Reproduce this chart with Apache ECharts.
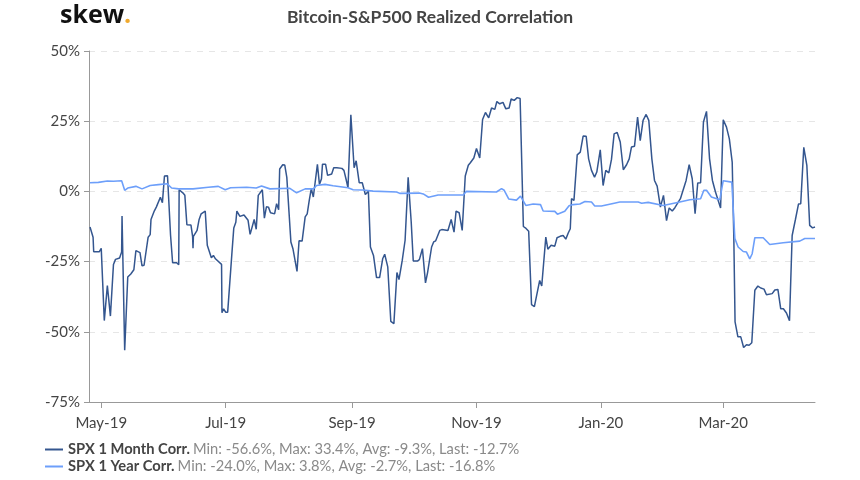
<!DOCTYPE html>
<html>
<head>
<meta charset="utf-8">
<title>Bitcoin-S&amp;P500 Realized Correlation</title>
<script src="https://cdn.jsdelivr.net/npm/echarts@6/dist/echarts.min.js"></script>
<style>
  html, body { margin: 0; padding: 0; background: #fff; }
  #chart { width: 860px; height: 480px; }
</style>
</head>
<body>
<div id="chart"></div>
<script>
// x positions are days counted from the left edge of the chart
const startDate = '2019-04-25';
const endDay = 356;

const tickDates = ['2019-05-01', '2019-07-01', '2019-09-01', '2019-11-01', '2020-01-01', '2020-03-01'];
const tickLabels = ['May-19', 'Jul-19', 'Sep-19', 'Nov-19', 'Jan-20', 'Mar-20'];

const monthDays = [
  0.5, 2, 2.3, 5, 6, 7.5, 9, 10.5, 12, 13, 15, 16, 16.2, 17.5, 19, 20.5, 22, 23, 25, 26, 27, 29, 30, 30.4,
  32, 33, 35, 36, 37, 38.5, 40, 41, 43, 44, 44.2, 46, 47, 48, 50, 50.8, 51, 51.2, 53, 54, 55, 57, 58, 60,
  61, 62, 65, 65.2, 66, 67, 68, 70, 71, 72, 72.5, 74, 76, 78, 79, 81, 82, 83, 85, 86, 87, 88, 89, 91, 92,
  93, 93.5, 95, 96, 97, 99, 100, 102, 103, 104.5, 106, 107, 108, 109, 110, 112, 113, 114, 114.5, 116, 117,
  119, 120, 121.5, 124, 125, 126, 127, 128.4, 130, 131, 132.5, 134, 135.5, 137, 138, 139.5, 141, 142.5,
  144, 145, 146.5, 148, 149.5, 151, 152, 153.6, 155, 156.5, 158, 159, 161, 162, 163.5, 165, 166, 168, 169,
  170, 172, 173, 176, 177.6, 179, 180, 181.5, 183, 184.5, 186, 187, 188.7, 190, 191.6, 193, 194.4, 196,
  197.4, 199, 200, 201.4, 203, 204.4, 206, 207, 208.5, 210, 211.4, 213, 214.3, 215.6, 217, 218.4, 221, 222,
  224, 225, 226.6, 228.4, 229.5, 231, 232.5, 233.8, 235, 236, 236.6, 237.8, 239.4, 240.9, 242.3, 243.8,
  245, 246.4, 247.9, 249, 250.7, 252.1, 253.4, 254.9, 256.2, 257.5, 259, 260.5, 262, 263.6, 264.9, 266,
  267.5, 269, 270.3, 271.7, 273.2, 274.5, 276, 277.3, 278.6, 280.2, 281.7, 283.2, 284.5, 286, 287.3, 290,
  292.8, 294.3, 295.8, 297.2, 298.5, 299.9, 301.3, 302.8, 304.3, 305.7, 307.2, 309.7, 311, 312.6, 314,
  315.4, 316.2, 316.8, 318.2, 319.6, 321, 322.4, 323.7, 325, 326.5, 328, 329.4, 331, 332.2, 335, 336.3,
  337.8, 339.2, 340.5, 342, 343.5, 344.8, 346.4, 347.9, 349, 350.5, 352, 353.4, 354.8, 356
];
const monthValues = [
  -12.7, -16.3, -21.5, -21.5, -20.3, -46, -33.5, -44.4, -26, -24.2, -23.7, -21.6, -8.8, -56.6, -30.5, -29.4,
  -27.9, -21.1, -21.8, -26.5, -26.3, -16.3, -15.4, -10, -7, -5.6, -2.1, -4, 5.5, 5.6, -15.7, -25.4, -25.4,
  -26.1, 0.6, -0.5, -1.4, -11.9, -12, -16, -20.2, -16, -13.9, -10, -8, -7, -19.2, -23.6, -22.8, -24, -26,
  -43.2, -41.8, -43, -43, -22.8, -13, -11, -7, -8.9, -8.4, -10.3, -15.3, -10, -13.5, -1.4, 0.6, -9.5, -5.5,
  -5.6, -7.6, -8, -4.4, -6.5, 8, 9.5, 9.4, 5, -18, -20.4, -28.5, -17.6, -17.7, -9.1, -8, -3.2, 1, -2, 9.6,
  2.5, 4.5, 9.7, 9.7, 5.7, 6.2, 8.4, 8.4, 8.2, 7.5, 4.5, 1.3, 27.3, 8.4, 10.9, 3.1, 3.1, -1.1, 0, -19.8,
  -22.8, -30.7, -30.7, -24, -22.4, -26.9, -46.3, -47.1, -28.9, -31.4, -24.6, -17.4, 5, -10.9, -24.8, -24.8,
  -24.3, -20.4, -32.6, -29, -19.8, -18, -17.6, -13.9, -13.6, -13.9, -10, -14.5, -7, -7.6, -13.9, 5.5, 9.3,
  10.2, 11.9, 15.3, 11.9, 25.6, 28.1, 26.2, 29.7, 29.2, 32, 31.2, 31.7, 29.4, 29.7, 32.9, 32.4, 33.4, 33.1,
  -12.5, -13.2, -14.2, -40.3, -41, -31.7, -33.7, -16.3, -20.6, -19.2, -19.5, -16.5, -16, -15.7, -17, -14.8,
  -13.3, -2.6, -3.2, 13, 14, 19.7, 19.6, 11.6, 7.5, 5.1, 6.9, 14.8, 2.1, 7.5, 6.6, 11.4, 20.5, 21, 17.6, 7.7,
  9.5, 11.6, 15.8, 16.1, 26.5, 18.1, 25.3, 27.4, 25.3, 11.6, 3.9, 1.9, -5.6, -1.4, -10.4, -5.9, -7, -5.8,
  -2.6, 3.9, 9.5, 4.5, -7.9, 3, 3.1, 24.7, 28.5, 11.6, 3.9, -0.2, -5.9, 25.5, 22.9, 18.7, 10.4, -16.8, -46.5,
  -51.8, -51.8, -55.6, -54.6, -54.8, -53.9, -35.2, -33.7, -34.4, -34.8, -36.8, -36.4, -35.1, -34.9, -41.8,
  -41.8, -43.3, -46.1, -15.7, -10, -4.5, -4.4, 15.7, 9.3, -12.1, -13, -12.7
];

const yearDays = [
  0.5, 4.6, 9, 12, 16, 17.5, 19, 23, 26, 30, 34, 38.4, 40.5, 44, 51, 58.5, 63.4, 66.8, 69.4, 77.3, 82, 84.6,
  88.7, 98.5, 101.8, 106, 110, 111.6, 115.7, 119.7, 127, 129.5, 134.4, 139.3, 150.8, 152.4, 162, 163.9,
  166.5, 171.2, 183.5, 185, 199.8, 202.3, 203.6, 205.8, 209.6, 211.6, 212.5, 214.2, 217.8, 221.4, 222.7,
  228.4, 229.7, 233.3, 235.4, 237.4, 240.7, 243.2, 246.4, 248, 251.3, 257, 260.3, 269.3, 271, 274.2, 281.6,
  289.7, 294.6, 299.9, 301.5, 302.8, 305.2, 309.3, 311, 311.8, 315.2, 316.7, 318.3, 320.8, 322.4, 324,
  325.2, 326.5, 330.6, 333.8, 340.4, 348.5, 351, 356
];
const yearValues = [
  3.1, 3.2, 3.7, 3.6, 3.8, 0.4, 1.2, 1.8, 0.9, 2.1, 2.4, 2.7, 1.2, 0.9, 0.9, 1.5, 1.8, 0.6, 1.3, 1.5, 1.2, 1.9,
  0.9, 1.1, -0.5, 0.9, 0.9, 2.1, 2.5, 2, 1.3, 0.6, 0.5, 0.1, -0.2, -0.7, -0.6, -0.9, -2.1, -1.3, -1.3, 0, -0.2,
  1, 0.4, -2.7, -3.1, -1.7, -2, -5, -4.5, -4.7, -7, -7.1, -8.1, -7.1, -5.1, -4.7, -4.5, -3.6, -3.8, -5.2, -5.2,
  -4.3, -3.8, -3.8, -4.2, -3.9, -5, -3.8, -3, -2.6, 0.4, 0.4, -2, -3, 3.8, 3.6, 3.3, -16.8, -19.8, -21.4, -21.6,
  -24, -22.2, -16.5, -16.5, -18.9, -18.3, -17.7, -16.8, -16.8
];

const monthName = 'SPX 1 Month Corr.';
const yearName = 'SPX 1 Year Corr.';
const monthStats = 'Min: -56.6%, Max: 33.4%, Avg: -9.3%, Last: -12.7%';
const yearStats = 'Min: -24.0%, Max: 3.8%, Avg: -2.7%, Last: -16.8%';

const DAY = 86400000;
const t0 = Date.parse(startDate);
const tickDays = tickDates.map(d => (Date.parse(d) - t0) / DAY);
const toPairs = (days, values) => days.map((d, i) => [d, values[i]]);

const chart = echarts.init(document.getElementById('chart'));

chart.setOption({
  animation: false,
  textStyle: { fontFamily: 'Lato' },
  title: [{
    text: 'skew{dot|.}',
    left: 55,
    top: -2,
    textStyle: {
      fontFamily: 'Open Sans',
      fontSize: 25,
      fontWeight: 'bold',
      color: '#111',
      rich: { dot: { fontFamily: 'Open Sans', fontSize: 25, fontWeight: 'bold', color: '#f0a92c' } }
    }
  }, {
    text: 'Bitcoin-S&P500 Realized Correlation',
    left: 425,
    textAlign: 'center',
    top: 3,
    textStyle: { fontFamily: 'Lato', fontSize: 17.5, fontWeight: 'bold', color: '#444' }
  }],
  legend: {
    orient: 'vertical',
    left: 40,
    top: 437,
    itemGap: 2,
    itemWidth: 18,
    itemHeight: 2,
    icon: 'rect',
    data: [monthName, yearName],
    formatter: name => '{n|' + name + '} {s|' + (name === monthName ? monthStats : yearStats) + '}',
    textStyle: {
      rich: {
        n: { fontFamily: 'Lato', fontSize: 14.7, fontWeight: 'bold', color: '#444' },
        s: { fontFamily: 'Lato', fontSize: 14.7, color: '#8a8a8a' }
      }
    }
  },
  grid: { left: 89, right: 45, top: 51, bottom: 78 },
  xAxis: {
    type: 'value',
    min: 0,
    max: endDay,
    splitLine: { show: false },
    axisLine: { onZero: false, lineStyle: { color: '#999' } },
    axisTick: { show: true, length: 6, customValues: tickDays, lineStyle: { color: '#999' } },
    axisLabel: {
      customValues: tickDays,
      formatter: v => tickLabels[tickDays.indexOf(v)] || '',
      color: '#444',
      fontSize: 15,
      margin: 14
    }
  },
  yAxis: {
    type: 'value',
    min: -75,
    max: 50,
    interval: 25,
    axisLine: { show: true, lineStyle: { color: '#999' } },
    axisTick: { show: true, length: 5, lineStyle: { color: '#999' } },
    axisLabel: { formatter: '{value}%', color: '#444', fontSize: 15, margin: 9 },
    splitLine: { show: true, lineStyle: { color: '#e6e6e6', type: [6, 6] } }
  },
  series: [{
    name: monthName,
    type: 'line',
    symbol: 'none',
    data: toPairs(monthDays, monthValues),
    lineStyle: { color: '#34568f', width: 1.5 },
    itemStyle: { color: '#34568f' }
  }, {
    name: yearName,
    type: 'line',
    symbol: 'none',
    data: toPairs(yearDays, yearValues),
    lineStyle: { color: '#6d9ffa', width: 1.6 },
    itemStyle: { color: '#6d9ffa' }
  }]
});
</script>
</body>
</html>
